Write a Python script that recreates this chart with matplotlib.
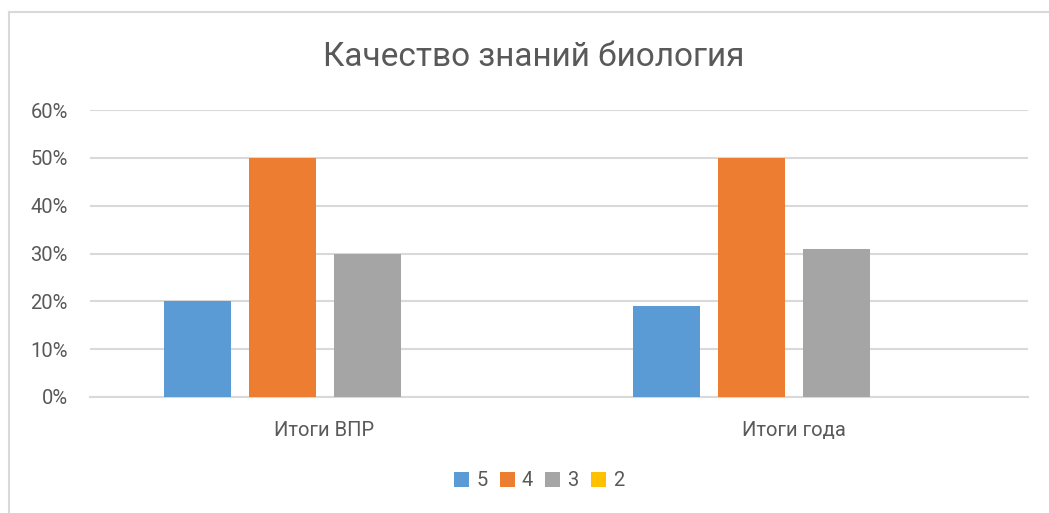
import matplotlib
matplotlib.use("Agg")
import matplotlib.pyplot as plt
from matplotlib.lines import Line2D
from matplotlib.patches import Patch
import numpy as np

categories = ["Итоги ВПР", "Итоги года"]
series_names = ["5", "4", "3", "2"]
values = {
    "5": [0.20, 0.19],
    "4": [0.50, 0.50],
    "3": [0.30, 0.31],
    "2": [0.0, 0.0],
}
colors = ["#5B9BD5", "#ED7D31", "#A5A5A5", "#FFC000"]
title = "Качество знаний биология"
yticks = [0, 0.1, 0.2, 0.3, 0.4, 0.5, 0.6]

plt.rcParams['font.family'] = ['Roboto', 'DejaVu Sans']
W, H = 1049, 513
fig = plt.figure(figsize=(W/100, H/100), dpi=100)
ax = fig.add_axes([90/W, 1-397/H, (1028-90)/W, (397-110)/H])

x = np.arange(len(categories))
bw = 67/469
step = 85/469
for i, name in enumerate(series_names):
    ax.bar(x + (i-1.5)*step, values[name], width=bw, color=colors[i], zorder=3)

ax.set_xlim(-0.5, 1.5)
ax.set_ylim(0, 0.6)
ax.set_yticks(yticks)
ax.set_yticklabels([f"{int(round(t*100))}%" for t in yticks], fontsize=14.5, color="#595959")
ax.set_xticks(x)
ax.set_xticklabels(categories, fontsize=14.5, color="#595959")
ax.tick_params(axis='both', length=0)
ax.tick_params(axis='y', pad=16)
ax.tick_params(axis='x', pad=17)
ax.grid(axis='y', color="#D9D9D9", linewidth=1.5, zorder=0)
for s in ["top", "right", "left"]:
    ax.spines[s].set_visible(False)
ax.spines["bottom"].set_color("#D9D9D9")
ax.spines["bottom"].set_linewidth(1.5)

fig.text(534/W, 1-57/H, title, ha='center', va='center', fontsize=24, color="#595959")

handles = [Patch(facecolor=c, edgecolor='none') for c in colors]
fig.legend(handles, series_names, loc='center', bbox_to_anchor=(539/W, 1-481/H),
           ncol=4, frameon=False, fontsize=14.5, handlelength=0.75, handleheight=0.75,
           handletextpad=0.35, columnspacing=0.6, labelcolor="#595959")

fig.add_artist(Line2D([9/W, 9/W], [0, 1-12/H], color="#D9D9D9", linewidth=1.5))
fig.add_artist(Line2D([9/W, 1], [1-12/H, 1-12/H], color="#D9D9D9", linewidth=1.5))

fig.savefig("out.png", dpi=100)
